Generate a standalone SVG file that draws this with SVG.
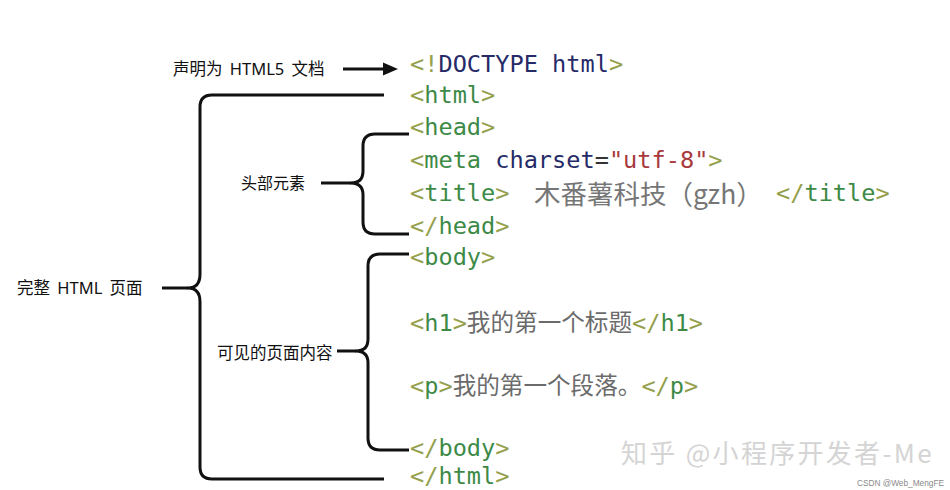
<svg xmlns="http://www.w3.org/2000/svg" width="950" height="490" viewBox="0 0 950 490">
<style>
.code{font-family:"DejaVu Sans Mono","Noto Sans CJK SC",monospace;font-size:23.6px;fill:#3d8a47}
.b{fill:#95a04c}
.n{fill:#262b68}
.s{fill:#a8393c}
.d{fill:#333}
.zh{fill:#6b6b6b}
.lbl{font-family:"Noto Sans","Noto Sans CJK SC",sans-serif;font-size:16.5px;fill:#111;word-spacing:3px}
.br{fill:none;stroke:#111;stroke-width:3;stroke-linecap:butt;stroke-linejoin:round}
.wm{font-family:"Noto Sans CJK SC","Noto Sans",sans-serif;font-size:26px;fill:#d4d4d4;letter-spacing:2.3px}
.cs{font-family:"Liberation Sans",sans-serif;font-size:8.5px;fill:#8a8a8a}
</style>
<rect width="950" height="490" fill="#fff"/>
<g id="connectors">
<path class="br" d="M343 69 H386"/>
<polygon points="398,69 383,62.5 383,75.5" fill="#111"/>
<path class="br" d="M384 95 H212 Q200 95 200 107 V274 Q200 288 188 288 Q200 288 200 302 V467 Q200 479 212 479 H384"/>
<path class="br" d="M162 288 H188"/>
<path class="br" d="M409 134 H375 Q363 134 363 146 V171 Q363 183 351 183 Q363 183 363 195 V222 Q363 234 375 234 H409"/>
<path class="br" d="M321 183 H351"/>
<path class="br" d="M409 254 H380 Q368 254 368 266 V339 Q368 351 356 351 Q368 351 368 363 V438 Q368 450 380 450 H409"/>
<path class="br" d="M337 351 H356"/>
</g>
<g id="label-doctype"><text class="lbl" x="173" y="75">声明为 HTML5 文档</text></g>
<g id="label-head"><text class="lbl" x="241" y="189" style="font-size:16px">头部元素</text></g>
<g id="label-page"><text class="lbl" x="17" y="294">完整 HTML 页面</text></g>
<g id="label-body"><text class="lbl" x="217" y="359">可见的页面内容</text></g>
<g id="code">
<text class="code" x="410" y="71.5"><tspan class="b">&lt;!</tspan><tspan class="n">DOCTYPE html</tspan><tspan class="b">&gt;</tspan></text>
<text class="code" x="410" y="102.5"><tspan class="b">&lt;</tspan>html<tspan class="b">&gt;</tspan></text>
<text class="code" x="410" y="135"><tspan class="b">&lt;</tspan>head<tspan class="b">&gt;</tspan></text>
<text class="code" x="410" y="167.5"><tspan class="b">&lt;</tspan>meta <tspan class="n">charset</tspan><tspan class="d">=</tspan><tspan class="s">"utf-8"</tspan><tspan class="b">&gt;</tspan></text>
<text class="code" x="410" y="201"><tspan class="b">&lt;</tspan>title<tspan class="b">&gt;</tspan></text>
<text x="534" y="203.5" style="font-family:'Noto Sans CJK SC','Noto Sans',sans-serif;font-size:26.5px;fill:#767676">木番薯科技（gzh）</text>
<text class="code" x="776" y="201"><tspan class="b">&lt;/</tspan>title<tspan class="b">&gt;</tspan></text>
<text class="code" x="410" y="233.5"><tspan class="b">&lt;/</tspan>head<tspan class="b">&gt;</tspan></text>
<text class="code" x="410" y="265"><tspan class="b">&lt;</tspan>body<tspan class="b">&gt;</tspan></text>
<text class="code" x="410" y="330.5"><tspan class="b">&lt;</tspan>h1<tspan class="b">&gt;</tspan><tspan class="zh">我的第一个标题</tspan><tspan class="b">&lt;/</tspan>h1<tspan class="b">&gt;</tspan></text>
<text class="code" x="410" y="394"><tspan class="b">&lt;</tspan>p<tspan class="b">&gt;</tspan><tspan class="zh">我的第一个段落。</tspan><tspan class="b">&lt;/</tspan>p<tspan class="b">&gt;</tspan></text>
<text class="code" x="410" y="456"><tspan class="b">&lt;/</tspan>body<tspan class="b">&gt;</tspan></text>
<text class="code" x="410" y="484"><tspan class="b">&lt;/</tspan>html<tspan class="b">&gt;</tspan></text>
</g>
<g id="watermark">
<text class="wm" x="621" y="463">知乎 @小程序开发者-Me</text>
<text class="cs" x="857" y="486" textLength="87" lengthAdjust="spacingAndGlyphs">CSDN @Web_MengFE</text>
</g>
</svg>
